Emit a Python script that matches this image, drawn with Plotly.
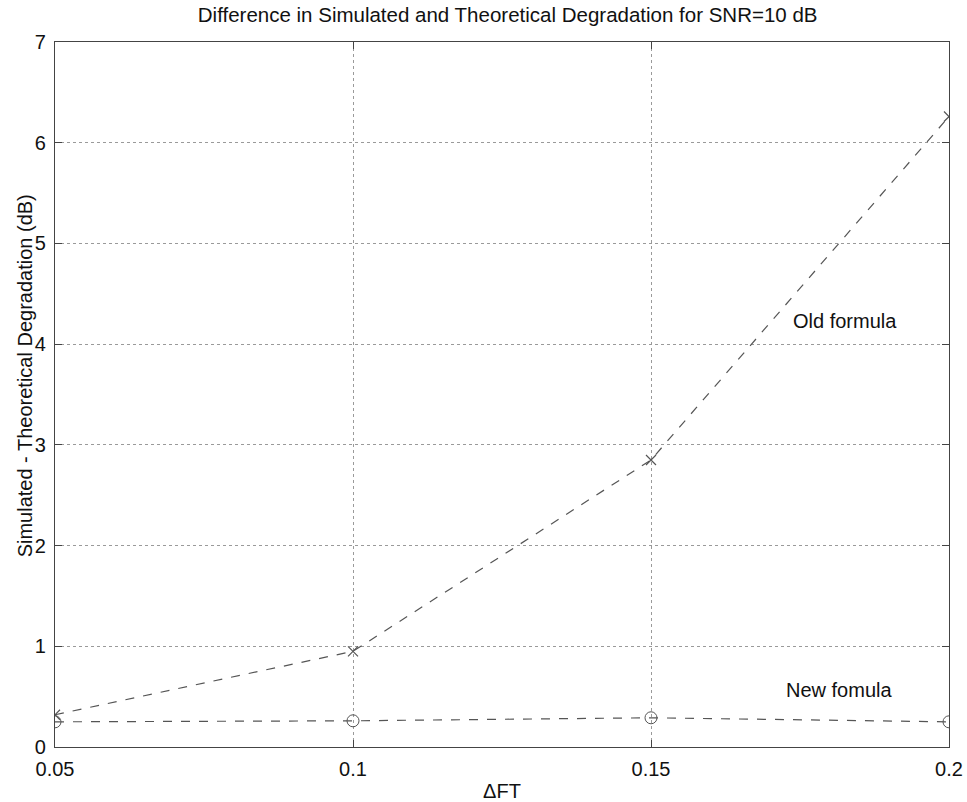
import plotly.graph_objects as go

# Frequency offset (ΔFT) values
dft = [0.05, 0.10, 0.15, 0.20]
# Simulated minus theoretical degradation (dB)
old_formula = [0.32, 0.95, 2.85, 6.26]
new_formula = [0.25, 0.26, 0.29, 0.25]

x_ticks = [0.05, 0.1, 0.15, 0.2]
x_tick_text = ["0.05", "0.1", "0.15", "0.2"]
y_ticks = [0, 1, 2, 3, 4, 5, 6, 7]

line_col = "#555555"
text_col = "#111111"
font = "Liberation Sans, Arial, sans-serif"

fig = go.Figure()
fig.add_trace(go.Scatter(
    x=dft, y=old_formula, mode="lines+markers",
    line=dict(color=line_col, width=1.2, dash="dash"),
    marker=dict(symbol="x-thin", size=10, line=dict(color=line_col, width=1.2)),
    showlegend=False,
))
fig.add_trace(go.Scatter(
    x=dft, y=new_formula, mode="lines+markers",
    line=dict(color=line_col, width=1.2, dash="dash"),
    marker=dict(symbol="circle-open", size=12, color=line_col, line=dict(width=1)),
    showlegend=False,
))

# in-plot curve labels
fig.add_annotation(x=0.1826, y=4.23, text="Old formula", showarrow=False,
                   font=dict(family=font, size=20, color=text_col))
fig.add_annotation(x=0.1815, y=0.57, text="New fomula", showarrow=False,
                   font=dict(family=font, size=20, color=text_col))

# y-axis label, placed slightly above the plot's mid-height
fig.add_annotation(xref="paper", x=0, xshift=-30, xanchor="center",
                   y=3.68, yanchor="middle", textangle=-90, showarrow=False,
                   text="Simulated - Theoretical Degradation (dB)",
                   font=dict(family=font, size=20, color=text_col))

axis_common = dict(
    showgrid=True, gridcolor="#9a9a9a", griddash="dot", gridwidth=1,
    showline=True, linecolor="#444444", linewidth=1.2, mirror="ticks",
    ticks="inside", ticklen=7, tickcolor="#444444",
    zeroline=False, automargin=False,
    tickfont=dict(family=font, size=20, color=text_col),
    title_font=dict(family=font, size=20, color=text_col),
)

fig.update_xaxes(range=[0.05, 0.2], tickvals=x_ticks, ticktext=x_tick_text,
                 ticklabelstandoff=4,
                 title_text="ΔFT", title_standoff=8, **axis_common)
fig.update_yaxes(range=[0, 7], tickvals=y_ticks, ticklabelstandoff=4,
                 **axis_common)

fig.update_layout(
    width=967, height=802,
    margin=dict(l=55, r=18, t=42, b=55),
    plot_bgcolor="white", paper_bgcolor="white",
    title=dict(text="Difference in Simulated and Theoretical Degradation for SNR=10 dB",
               x=0.525, xanchor="center", y=0.981, yanchor="middle",
               font=dict(family=font, size=20.5, color=text_col)),
)

fig.write_html("out.html")
